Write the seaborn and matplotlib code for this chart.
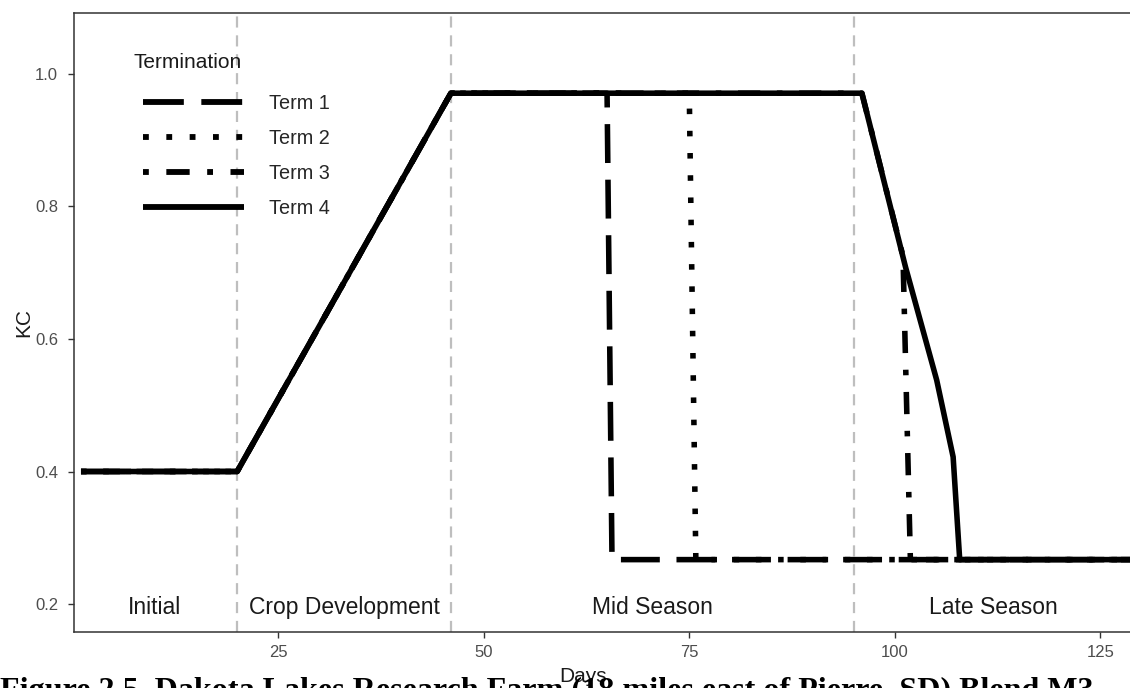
import matplotlib
matplotlib.use("Agg")
import matplotlib.pyplot as plt
import numpy as np
import pandas as pd
import seaborn as sns

# Crop coefficient (KC) curves for each termination date
terms = ["Term 1", "Term 2", "Term 3", "Term 4"]
term1_days = [1, 20, 46, 65.0, 65.6, 130]
term1_kc = [0.40, 0.40, 0.971, 0.971, 0.267, 0.267]
term2_days = [1, 20, 46, 75.0, 75.8, 130]
term2_kc = [0.40, 0.40, 0.971, 0.971, 0.267, 0.267]
term3_days = [1, 20, 46, 96, 101.0, 101.9, 130]
term3_kc = [0.40, 0.40, 0.971, 0.971, 0.725, 0.267, 0.267]
term4_days = [1, 20, 46, 96, 101.3, 105.1, 107.1, 107.9, 130]
term4_kc = [0.40, 0.40, 0.971, 0.971, 0.709, 0.538, 0.422, 0.267, 0.267]

# Growth stages
stage_bounds = [20, 46, 95]
stage_names = ["Initial", "Crop Development", "Mid Season", "Late Season"]
stage_label_days = [10, 33, 70.5, 112]
stage_label_kc = 0.195

x_ticks = [25, 50, 75, 100, 125]
y_ticks = [0.2, 0.4, 0.6, 0.8, 1.0]

caption = "Figure 2.5. Dakota Lakes Research Farm (18 miles east of Pierre, SD) Blend M3"

sns.set_theme(style="white")
plt.rcParams["font.family"] = ["Liberation Sans", "DejaVu Sans"]

frames = []
for name, d, k in zip(terms,
                      [term1_days, term2_days, term3_days, term4_days],
                      [term1_kc, term2_kc, term3_kc, term4_kc]):
    frames.append(pd.DataFrame({"Days": d, "KC": k, "Termination": name}))
df = pd.concat(frames, ignore_index=True)

fig = plt.figure(figsize=(11.3, 6.88), dpi=100)
W, H = 1130, 688
ax_left_px, ax_bottom_px = 74, 631.7
x_min, x_max = 0.15, 130.0
px_per_day = 8.22
ax_w_px = (x_max - x_min) * px_per_day
ax_top_px = 13.3
ax = fig.add_axes([ax_left_px / W, (H - ax_bottom_px) / H,
                   ax_w_px / W, (ax_bottom_px - ax_top_px) / H])

# stage boundaries
for b in stage_bounds:
    ax.axvline(b, color="#BEBEBE", lw=1.6, dashes=(5, 3.5), zorder=1)

line_dashes = {"Term 1": (7, 3), "Term 2": (1, 3), "Term 3": (1, 3, 4, 3), "Term 4": ""}
sns.lineplot(data=df, x="Days", y="KC", style="Termination", dashes=line_dashes,
             style_order=terms, color="black", lw=4, estimator=None, sort=False,
             solid_capstyle="butt", dash_capstyle="butt",
             ax=ax, zorder=3)

for name, xd in zip(stage_names, stage_label_days):
    ax.text(xd, stage_label_kc, name, ha="center", va="center",
            fontsize=16.5, color="#1A1A1A")

ax.set_xlim(x_min, x_max)
ax.set_ylim(0.1582, 1.0916)
ax.set_xticks(x_ticks)
ax.set_yticks(y_ticks)
ax.set_yticklabels([f"{v:.1f}" for v in y_ticks])
ax.tick_params(axis="both", which="both", length=4.5, width=1.0, color="#333333",
               labelsize=12, labelcolor="#4D4D4D", pad=5, bottom=True, left=True)
ax.tick_params(axis="y", pad=7)
for s in ax.spines.values():
    s.set_color("#333333")
    s.set_linewidth(1.1)

ax.set_xlabel("Days", fontsize=15, color="#1A1A1A")
ax.set_ylabel("KC", fontsize=15, color="#1A1A1A")
ax.xaxis.set_label_coords((583 - ax_left_px) / ax_w_px, -(676 - ax_bottom_px) / (ax_bottom_px - ax_top_px))
ax.yaxis.set_label_coords(-(74 - 24) / ax_w_px, 0.5)
ax.xaxis.label.set_va("center")
ax.yaxis.label.set_va("center")

handles, labels = ax.get_legend_handles_labels()
for h in handles:
    h.set_linewidth(4.2)
    h.set_color("black")
    h.set_solid_capstyle("butt")
    h.set_dash_capstyle("butt")
leg = ax.legend(handles, labels, frameon=False,
                loc="upper left", bbox_to_anchor=(133 / W, 1 - 84 / H),
                bbox_transform=fig.transFigure, fontsize=14.3,
                handlelength=5.1, handletextpad=1.25, labelspacing=0.80,
                borderpad=0)
fig.text(133 / W, 1 - 63 / H, "Termination", fontsize=15, color="#1A1A1A",
         ha="left", va="center")

fig.text(0.0, -0.0155, caption, fontsize=23.1, fontweight="bold",
         family=["Liberation Serif", "DejaVu Serif"], color="black",
         ha="left", va="baseline")

fig.savefig("out.png", dpi=100)
